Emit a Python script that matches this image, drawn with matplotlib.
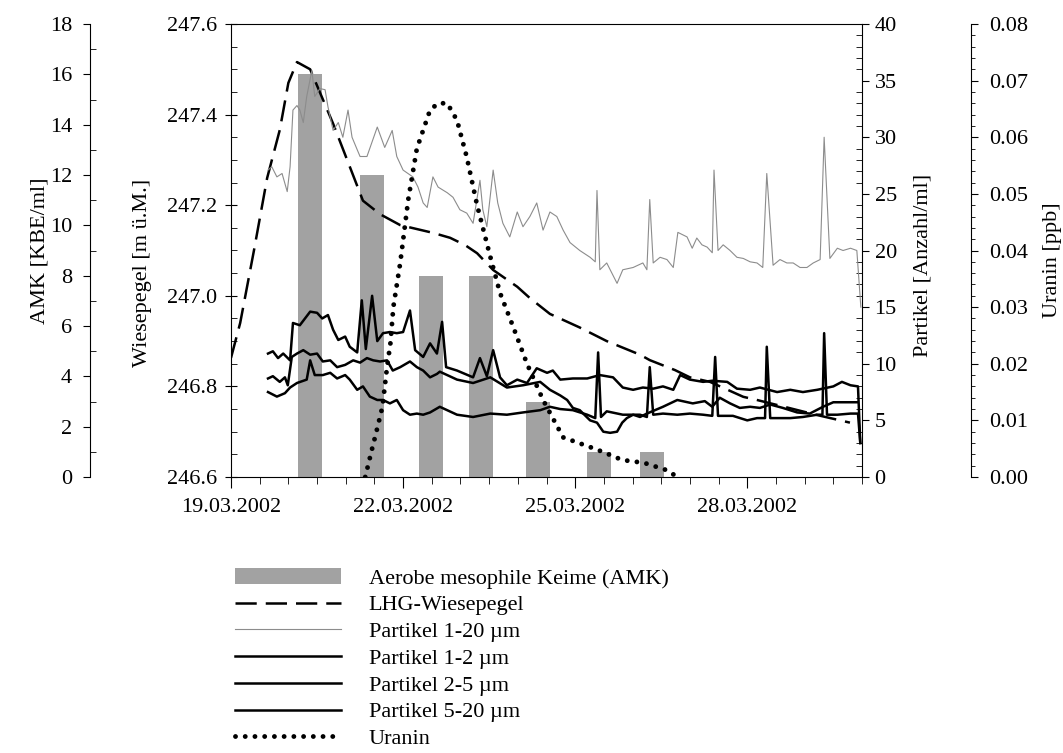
import numpy as np
import matplotlib
matplotlib.use('Agg')
import matplotlib.pyplot as plt
import matplotlib.dates as mdates
from matplotlib.ticker import MultipleLocator, FormatStrFormatter
from matplotlib.lines import Line2D
from matplotlib.patches import Patch
import datetime as dt

plt.rcParams['font.family'] = ['Liberation Serif', 'DejaVu Serif']
plt.rcParams['font.size'] = 16
FS = 16

# ---- data (time in days since 19.03.2002 00:00) ----
amk_days = [1.38, 2.46, 3.49, 4.36, 5.35, 6.42, 7.34]
amk_vals = [16, 12, 8, 8, 3, 1, 1]

pegel_days = [0.00, 0.16, 0.40, 0.63, 0.85, 1.00, 1.15, 1.38, 1.78, 2.30, 2.60, 2.95, 3.52,
              3.82, 4.08, 4.29, 4.57, 4.99, 5.21, 5.56, 6.08, 6.55, 7.13, 7.30, 7.74,
              8.00, 8.35, 8.93, 9.17, 9.74, 10.21, 10.79]
pegel_vals = [246.863, 246.94, 247.10, 247.26, 247.366, 247.47, 247.516, 247.50, 247.38, 247.21,
              247.18, 247.156, 247.139, 247.128, 247.112, 247.094, 247.057, 247.02, 246.995,
              246.96, 246.93, 246.90, 246.87, 246.858, 246.836, 246.82, 246.81, 246.777,
              246.77, 246.752, 246.737, 246.72]

uranin_days = [2.34, 2.46, 2.53, 2.64, 2.72, 2.78, 2.83, 2.95, 3.09, 3.24, 3.47, 3.61, 3.77,
               3.94, 4.11, 4.29, 4.52, 4.69, 4.92, 5.16, 5.44, 5.79, 6.31, 6.49, 6.82, 7.20,
               7.60, 7.78]
uranin_vals = [0.0, 0.005, 0.0078, 0.0124, 0.0194, 0.0237, 0.030, 0.0378, 0.049, 0.058,
               0.0648, 0.066, 0.066, 0.063, 0.0565, 0.048, 0.0389, 0.0325, 0.0265, 0.020,
               0.0136, 0.007, 0.0051, 0.0044, 0.003, 0.0025, 0.0012, 0.0]

p120_days = [0.645, 0.71, 0.80, 0.89, 0.98, 1.03, 1.08, 1.15, 1.20, 1.26, 1.32, 1.41, 1.46,
             1.55, 1.64, 1.69, 1.78, 1.87, 1.95, 2.04, 2.11, 2.20, 2.25, 2.37, 2.55, 2.68,
             2.81, 2.89, 3.00, 3.17, 3.26, 3.35, 3.42, 3.52, 3.61, 3.77, 3.87, 3.99, 4.11,
             4.22, 4.34, 4.39, 4.46, 4.57, 4.65, 4.74, 4.86, 4.99, 5.09, 5.21, 5.33, 5.44,
             5.56, 5.68, 5.79, 5.91, 6.08, 6.26, 6.35, 6.38, 6.43, 6.55, 6.73, 6.83, 7.01,
             7.18, 7.25, 7.30, 7.36, 7.48, 7.60, 7.71, 7.79, 7.95, 8.04, 8.12, 8.21, 8.30,
             8.39, 8.42, 8.49, 8.58, 8.70, 8.82, 8.93, 9.05, 9.17, 9.27, 9.34, 9.45, 9.57,
             9.69, 9.80, 9.92, 10.04, 10.15, 10.27, 10.34, 10.44, 10.57, 10.67, 10.80, 10.91,
             10.98]
p120_vals = [27.1, 27.4, 26.5, 26.8, 25.2, 27.4, 32.4, 32.8, 32.4, 31.3, 33.6, 35.9, 33.6,
             34.3, 34.2, 32.7, 30.6, 31.3, 30.0, 32.4, 30.0, 28.9, 28.3, 28.3, 30.9, 29.1,
             30.6, 28.3, 27.1, 26.5, 25.6, 24.2, 23.8, 26.5, 25.6, 25.1, 24.7, 23.6, 23.3,
             22.4, 26.2, 23.6, 22.1, 27.1, 24.2, 22.4, 21.2, 23.4, 22.1, 23.0, 24.2, 21.8,
             23.4, 23.0, 21.8, 20.7, 20.0, 19.4, 19.0, 25.3, 18.3, 18.9, 17.1, 18.3, 18.5,
             18.9, 18.3, 24.5, 18.9, 19.4, 19.2, 18.5, 21.6, 21.2, 20.2, 21.1, 20.5, 20.3,
             19.8, 27.1, 20.0, 20.5, 20.0, 19.4, 19.3, 19.0, 18.9, 18.5, 26.8, 18.7, 19.2,
             18.9, 18.9, 18.5, 18.5, 18.9, 19.2, 30.0, 19.3, 20.2, 20.0, 20.2, 20.0,
             15.0]

p12_days = [0.645, 0.73, 0.82, 0.91, 1.03, 1.08, 1.20, 1.29, 1.38, 1.50, 1.59, 1.69, 1.78,
            1.87, 1.99, 2.07, 2.20, 2.28, 2.35, 2.46, 2.55, 2.65, 2.77, 2.89, 3.00, 3.12,
            3.21, 3.35, 3.47, 3.59, 3.68, 3.75, 3.94, 4.22, 4.34, 4.46, 4.57, 4.69, 4.81,
            4.99, 5.16, 5.33, 5.51, 5.61, 5.74, 5.96, 6.21, 6.43, 6.66, 6.83, 7.01, 7.18,
            7.36, 7.53, 7.71, 7.83, 8.00, 8.23, 8.39, 8.65, 8.82, 9.05, 9.22, 9.52, 9.75,
            9.97, 10.22, 10.50, 10.65, 10.80, 10.93, 10.97]
p12_vals = [10.9, 11.1, 10.5, 10.9, 10.3, 13.6, 13.4, 14.0, 14.6, 14.5, 14.0, 14.3, 13.0,
            12.1, 12.4, 11.5, 11.0, 15.6, 11.3, 16.0, 12.0, 12.7, 12.8, 12.7, 12.8, 14.7,
            11.2, 10.6, 11.8, 10.9, 13.7, 9.7, 9.4, 8.8, 10.5, 8.9, 11.2, 8.8, 8.1,
            8.6, 8.3, 9.6, 9.2, 9.4, 8.6, 8.7, 8.7, 9.0, 8.8, 7.9, 7.7, 7.9,
            7.8, 8.0, 7.7, 9.0, 8.6, 8.4, 8.5, 8.4, 7.8, 7.7, 7.9, 7.5, 7.7,
            7.5, 7.7, 8.0, 8.4, 8.1, 8.0, 3.0]

p25_days = [0.645, 0.73, 0.85, 0.94, 0.99, 1.06, 1.15, 1.26, 1.38, 1.50, 1.60, 1.73, 1.85,
            1.99, 2.13, 2.25, 2.37, 2.48, 2.60, 2.72, 2.82, 2.95, 3.12, 3.24, 3.35, 3.47,
            3.59, 3.64, 3.94, 4.22, 4.52, 4.81, 5.09, 5.39, 5.56, 5.74, 5.86, 5.96, 6.08,
            6.26, 6.38, 6.49, 6.61, 6.73, 6.82, 6.90, 7.01, 7.13, 7.25, 7.53, 7.78, 8.05,
            8.26, 8.39, 8.52, 8.70, 8.87, 9.05, 9.22, 9.40, 9.62, 9.87, 10.09, 10.32, 10.50,
            10.67, 10.91]
p25_vals = [8.7, 8.9, 8.4, 8.8, 8.1, 10.6, 10.9, 11.2, 10.8, 10.9, 10.2, 10.3, 9.7,
            9.9, 10.3, 10.1, 10.5, 10.3, 10.2, 10.3, 9.4, 9.7, 10.2, 9.7, 9.4, 8.8,
            9.1, 9.3, 8.6, 8.3, 8.8, 7.9, 8.1, 8.4, 7.7, 7.2, 6.8, 6.1, 5.9,
            5.0, 4.8, 4.0, 3.9, 4.0, 4.8, 5.2, 5.5, 5.3, 5.6, 6.2, 6.8, 6.5,
            6.7, 6.2, 7.0, 6.5, 6.1, 6.2, 6.1, 6.4, 6.1, 5.7, 5.6, 6.2, 6.6,
            6.6, 6.6]

p520_days = [0.645, 0.80, 0.94, 1.03, 1.15, 1.32, 1.38, 1.46, 1.60, 1.73, 1.85, 1.99, 2.07,
             2.20, 2.30, 2.42, 2.55, 2.65, 2.77, 2.89, 3.00, 3.12, 3.24, 3.35, 3.47, 3.64,
             3.94, 4.22, 4.52, 4.81, 5.09, 5.39, 5.56, 5.74, 5.96, 6.21, 6.35, 6.40, 6.45,
             6.55, 6.83, 7.13, 7.25, 7.30, 7.36, 7.53, 7.78, 8.00, 8.23, 8.39, 8.44, 8.49,
             8.75, 9.00, 9.17, 9.31, 9.34, 9.40, 9.75, 9.97, 10.22, 10.31, 10.34, 10.39,
             10.57, 10.80, 10.93, 10.97]
p520_vals = [7.5, 7.1, 7.4, 7.9, 8.3, 8.6, 10.3, 9.0, 9.0, 9.2, 8.7, 9.0, 8.6,
             7.7, 8.0, 7.1, 6.8, 6.8, 6.5, 6.8, 5.9, 5.5, 5.6, 5.5, 5.7, 6.2,
             5.5, 5.3, 5.6, 5.5, 5.7, 5.9, 6.2, 6.0, 5.9, 5.5, 5.2, 11.0, 5.3,
             5.8, 5.5, 5.5, 5.3, 9.7, 5.5, 5.6, 5.5, 5.6, 5.5, 5.4, 10.6, 5.4,
             5.4, 5.0, 5.2, 5.2, 11.5, 5.2, 5.2, 5.3, 5.5, 5.5, 12.7, 5.5,
             5.5, 5.6, 5.6, 3.0]

x_tick_dates = ['19.03.2002', '22.03.2002', '25.03.2002', '28.03.2002']

labels = ['Aerobe mesophile Keime (AMK)', 'LHG-Wiesepegel', 'Partikel 1-20 \u00b5m',
          'Partikel 1-2 \u00b5m', 'Partikel 2-5 \u00b5m', 'Partikel 5-20 \u00b5m', 'Uranin']

# ---- figure ----
t0 = mdates.date2num(dt.datetime(2002, 3, 19))
def T(d):
    return t0 + np.asarray(d, dtype=float)

W, H = 1063, 753
fig = plt.figure(figsize=(W / 100, H / 100), dpi=100)
L, R, TOP, BOT = 231, 862, 24, 477
ax = fig.add_axes([L / W, 1 - BOT / H, (R - L) / W, (BOT - TOP) / H])

BAR_C = '#a2a2a2'
GRAY_C = '#8c8c8c'
DOT_LS = (0, (0.001, 2.0))

# AMK (host axes, bars)
ax.bar(T(amk_days), amk_vals, width=0.42, color=BAR_C, edgecolor='none', zorder=1)
ax.set_ylim(0, 18)
ax.set_xlim(t0, t0 + 11)
ax.yaxis.set_major_locator(MultipleLocator(2))
ax.yaxis.set_minor_locator(MultipleLocator(1))
ax.spines['left'].set_position(('axes', (90 - L) / (R - L)))
ax.spines['right'].set_visible(False)
ax.tick_params(axis='y', which='major', direction='out', length=5, pad=8, labelsize=FS)
ax.tick_params(axis='y', which='minor', direction='in', length=4)
ax.set_ylabel('AMK [KBE/ml]', fontsize=FS)
ax.yaxis.set_label_coords((40 - L) / (R - L), 0.5)
ax.yaxis.label.set_va('center')

ax.xaxis.set_major_locator(mdates.DayLocator(bymonthday=[19, 22, 25, 28]))
ax.xaxis.set_minor_locator(mdates.HourLocator(byhour=[0, 12]))
ax.xaxis.set_major_formatter(mdates.DateFormatter('%d.%m.%Y'))
ax.tick_params(axis='x', which='major', direction='out', length=8, pad=7, labelsize=FS)
ax.tick_params(axis='x', which='minor', direction='out', length=5)

# Wiesepegel
ax_w = ax.twinx()
ax_w.yaxis.tick_left()
ax_w.yaxis.set_label_position('left')
for s in ['right', 'top', 'bottom']:
    ax_w.spines[s].set_visible(False)
ax_w.spines['left'].set_visible(True)
ax_w.spines['left'].set_position(('axes', 0))
ax_w.plot(T(pegel_days), pegel_vals, color='black', lw=1.8, dashes=(8.5, 3.6), zorder=3)
ax_w.set_ylim(246.6, 247.6)
ax_w.yaxis.set_major_locator(MultipleLocator(0.2))
ax_w.yaxis.set_minor_locator(MultipleLocator(0.05))
ax_w.yaxis.set_major_formatter(FormatStrFormatter('%.1f'))
ax_w.tick_params(axis='y', which='major', direction='inout', length=8, pad=6, labelsize=FS)
ax_w.tick_params(axis='y', which='minor', direction='in', length=4)
ax_w.set_ylabel('Wiesepegel [m \u00fc.M.]', fontsize=FS)
ax_w.yaxis.set_label_coords((143 - L) / (R - L), 0.45)
ax_w.yaxis.label.set_va('center')

# Partikel
ax_p = ax.twinx()
for s in ['left', 'top', 'bottom']:
    ax_p.spines[s].set_visible(False)
ax_p.plot(T(p120_days), p120_vals, color=GRAY_C, lw=0.8, zorder=2)
ax_p.plot(T(p12_days), p12_vals, color='black', lw=1.8, zorder=3)
ax_p.plot(T(p25_days), p25_vals, color='black', lw=1.8, zorder=3)
ax_p.plot(T(p520_days), p520_vals, color='black', lw=1.8, zorder=3)
ax_p.set_ylim(0, 40)
ax_p.yaxis.set_major_locator(MultipleLocator(5))
ax_p.yaxis.set_minor_locator(MultipleLocator(1))
ax_p.tick_params(axis='y', which='major', direction='out', length=5, pad=4, labelsize=FS)
ax_p.tick_params(axis='y', which='minor', direction='in', length=4)
ax_p.set_ylabel('Partikel [Anzahl/ml]', fontsize=FS)
ax_p.yaxis.set_label_coords((923 - L) / (R - L), 0.467)
ax_p.yaxis.label.set_va('center')

# Uranin
ax_u = ax.twinx()
for s in ['left', 'top', 'bottom']:
    ax_u.spines[s].set_visible(False)
ax_u.spines['right'].set_position(('axes', (971 - L) / (R - L)))
ax_u.plot(T(uranin_days), uranin_vals, color='black', lw=3.5,
          linestyle=DOT_LS, dash_capstyle='round', zorder=4)
ax_u.set_ylim(0, 0.08)
ax_u.yaxis.set_major_locator(MultipleLocator(0.01))
ax_u.yaxis.set_minor_locator(MultipleLocator(0.002))
ax_u.yaxis.set_major_formatter(FormatStrFormatter('%.2f'))
ax_u.tick_params(axis='y', which='major', direction='out', length=5, pad=8, labelsize=FS)
ax_u.tick_params(axis='y', which='minor', direction='out', length=3)
ax_u.set_ylabel('Uranin [ppb]', fontsize=FS)
ax_u.yaxis.set_label_coords((1052 - L) / (R - L), 0.479)
ax_u.yaxis.label.set_va('center')

# legend
handles = [Patch(facecolor=BAR_C, edgecolor='none'),
           Line2D([], [], color='black', lw=1.8, dashes=(8.5, 3.6)),
           Line2D([], [], color=GRAY_C, lw=0.8),
           Line2D([], [], color='black', lw=1.8),
           Line2D([], [], color='black', lw=1.8),
           Line2D([], [], color='black', lw=1.8),
           Line2D([], [], color='black', lw=3.5, linestyle=DOT_LS,
                  dash_capstyle='round')]
fig.legend(handles, labels, loc='upper left', bbox_to_anchor=(235 / W, 1 - 568 / H),
           frameon=False, fontsize=FS, handlelength=4.75, handleheight=0.7,
           handletextpad=1.26, labelspacing=0.28, borderpad=0, borderaxespad=0)

fig.savefig('out.png', dpi=100)
